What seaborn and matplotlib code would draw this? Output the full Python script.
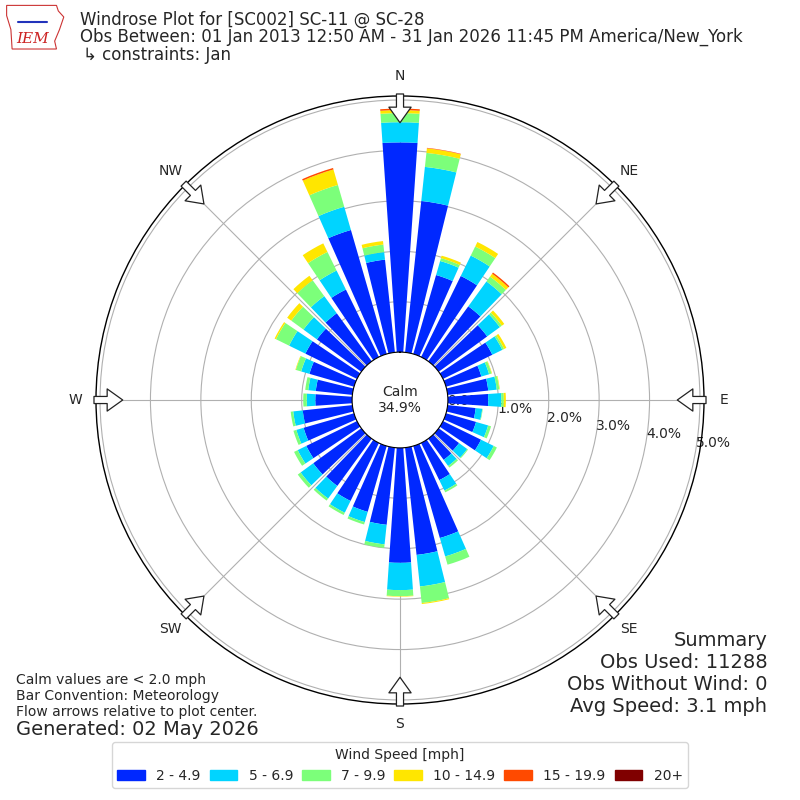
"""
Windrose plot, January obs for [SC002] SC-11 @ SC-28
"""

import matplotlib
matplotlib.use("Agg")
import matplotlib.pyplot as plt
import matplotlib.patches as mpatches
import seaborn as sns
import numpy as np

sns.set_style("white")
plt.rcParams['font.family'] = ['DejaVu Sans']

# direction bins (deg, meteorological, clockwise from N)
directions = np.arange(0, 360, 10)

# frequency (%) per speed bin
speed_labels = ['2 - 4.9', '5 - 6.9', '7 - 9.9', '10 - 14.9', '15 - 19.9', '20+']
speed_colors = ['#0028ff', '#00d4ff', '#7cff7a', '#ffe600', '#ff4a00', '#800000']

spd_2_5 = [4.16, 3.02, 1.63, 1.79, 1.35, 1.19, 1.09, 0.73, 0.81, 0.80, 0.56, 0.62,
           0.84, 0.50, 0.52, 0.82, 1.90, 2.14, 2.28, 1.54, 1.36, 1.28, 1.16, 1.18,
           1.12, 1.04, 0.99, 0.73, 0.73, 0.92, 1.14, 1.09, 1.18, 1.49, 2.56, 1.85]
spd_5_7 = [0.40, 0.68, 0.29, 0.45, 0.61, 0.31, 0.22, 0.16, 0.17, 0.26, 0.13, 0.25,
           0.28, 0.20, 0.15, 0.23, 0.38, 0.63, 0.54, 0.39, 0.21, 0.26, 0.31, 0.31,
           0.19, 0.15, 0.19, 0.17, 0.15, 0.17, 0.36, 0.33, 0.42, 0.42, 0.48, 0.15]
spd_7_10 = [0.18, 0.28, 0.06, 0.20, 0.12, 0.05, 0.04, 0.05, 0.05, 0.05, 0.01, 0.06,
            0.07, 0.02, 0.04, 0.04, 0.17, 0.33, 0.12, 0.07, 0.05, 0.05, 0.05, 0.07,
            0.08, 0.06, 0.05, 0.07, 0.06, 0.11, 0.29, 0.30, 0.39, 0.41, 0.45, 0.15]
spd_10_15 = [0.06, 0.09, 0.05, 0.10, 0.07, 0.06, 0.05, 0.01, 0.01, 0.04, 0.0, 0.0,
             0.0, 0.0, 0.0, 0.0, 0.0, 0.02, 0.01, 0.0, 0.0, 0.0, 0.0, 0.0,
             0.0, 0.0, 0.0, 0.0, 0.0, 0.01, 0.03, 0.10, 0.11, 0.19, 0.32, 0.07]
spd_15_20 = [0.03, 0.01, 0.0, 0.0, 0.03, 0.0, 0.0, 0.0, 0.0, 0.0, 0.0, 0.0,
             0.0, 0.0, 0.0, 0.0, 0.0, 0.0, 0.0, 0.0, 0.0, 0.0, 0.0, 0.0,
             0.0, 0.0, 0.0, 0.0, 0.0, 0.0, 0.0, 0.0, 0.0, 0.0, 0.03, 0.0]
spd_20p = [0.0] * 36

calm_pct = 34.9
rings = [0, 1, 2, 3, 4, 5]
compass = ['N', 'NE', 'E', 'SE', 'S', 'SW', 'W', 'NW']

fig = plt.figure(figsize=(8, 8), dpi=100)
ax = fig.add_axes([0.12, 0.12, 0.76, 0.76], projection='polar')
ax.set_theta_zero_location('N')
ax.set_theta_direction(-1)

# stacked bars (grid drawn over them)
theta = np.deg2rad(directions)
width = np.deg2rad(7.8)
bottom = np.zeros(len(directions))
for vals, color in zip([spd_2_5, spd_5_7, spd_7_10, spd_10_15, spd_15_20, spd_20p],
                       speed_colors):
    vals = np.array(vals)
    ax.bar(theta, vals, width=width, bottom=bottom, color=color,
           linewidth=0, zorder=1.5)
    bottom = bottom + vals

ax.set_rorigin(-0.95)
ax.set_ylim(0, 5.08)

# grid
ax.set_thetagrids(np.arange(0, 360, 45), labels=compass, fontsize=10)
ax.set_rgrids(rings, labels=[f'{r:.1f}%' for r in rings], angle=99.5, fontsize=10)
ax.grid(True, color='#b0b0b0', linewidth=0.8, zorder=2.5)
ax.tick_params(axis='x', pad=4)
ax.spines['polar'].set_linewidth(1.0)
ax.spines['polar'].set_color('black')
ax.spines['inner'].set_color('black')
for lbl in ax.get_yticklabels():
    lbl.set_zorder(5)

# flow arrows on the outer ring
for ang in np.arange(0, 360, 45):
    t = np.deg2rad(ang)
    ax.annotate('', xy=(t, 4.55), xytext=(t, 5.12),
                arrowprops=dict(arrowstyle='simple,head_length=0.7,head_width=1.0,tail_width=0.32',
                                fc='white', ec='#222222', lw=0.9,
                                shrinkA=0, shrinkB=0, mutation_scale=16),
                annotation_clip=False, zorder=6)

ax.text(0.5, 0.5, f'Calm\n{calm_pct}%', transform=ax.transAxes,
        ha='center', va='center', fontsize=10, zorder=7)

# header
fig.text(0.1, 0.975, 'Windrose Plot for [SC002] SC-11 @ SC-28', fontsize=12, va='center')
fig.text(0.1, 0.954, 'Obs Between: 01 Jan 2013 12:50 AM - 31 Jan 2026 11:45 PM America/New_York',
         fontsize=12, va='center')
fig.text(0.104, 0.931, '↳ constraints: Jan', fontsize=12, va='center')

# rough IEM logo
lax = fig.add_axes([0.006, 0.937, 0.076, 0.058])
lax.set_xlim(0, 1)
lax.set_ylim(0, 1)
lax.axis('off')
lax.add_patch(mpatches.Polygon([[0.03, 0.97], [0.85, 0.97], [0.88, 0.85], [0.97, 0.72],
                                [0.9, 0.45], [0.82, 0.2], [0.85, 0.03], [0.12, 0.03],
                                [0.1, 0.45], [0.03, 0.75]],
                               closed=True, fill=False, ec='#cc3333', lw=0.8))
lax.plot([0.22, 0.7], [0.62, 0.62], color='#2233bb', lw=1.5)
lax.text(0.45, 0.25, 'IEM', color='#cc2222', fontsize=11, ha='center', va='center',
         family='serif', style='italic')

# notes
fig.text(0.02, 0.150, 'Calm values are < 2.0 mph', fontsize=10, va='center')
fig.text(0.02, 0.130, 'Bar Convention: Meteorology', fontsize=10, va='center')
fig.text(0.02, 0.110, 'Flow arrows relative to plot center.', fontsize=10, va='center')
fig.text(0.02, 0.088, 'Generated: 02 May 2026', fontsize=14, va='center')

summary = ['Summary', 'Obs Used: 11288', 'Obs Without Wind: 0', 'Avg Speed: 3.1 mph']
for i, line in enumerate(summary):
    fig.text(0.959, 0.200 - i * 0.0275, line, fontsize=14, ha='right', va='center')

handles = [mpatches.Patch(color=c, label=l) for c, l in zip(speed_colors, speed_labels)]
fig.legend(handles=handles, loc='lower center', bbox_to_anchor=(0.5, 0.006), ncol=6,
           title='Wind Speed [mph]', fontsize=10, title_fontsize=10, frameon=True,
           columnspacing=0.65)

fig.savefig('out.png', dpi=100)
